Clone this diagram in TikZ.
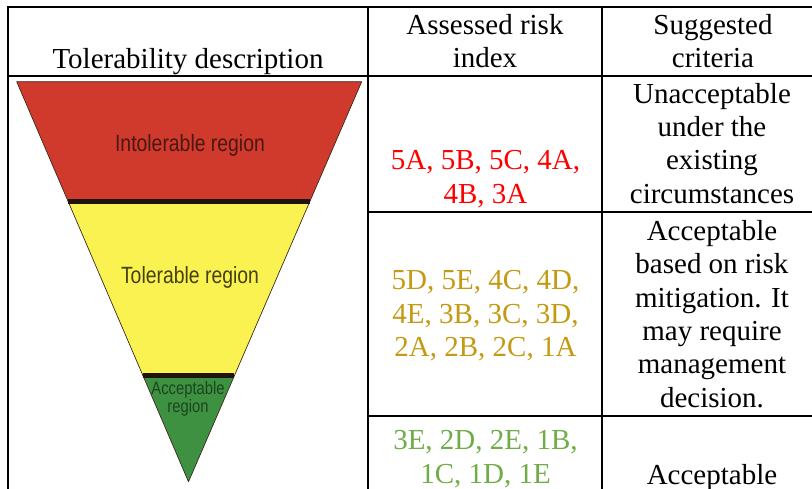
\documentclass[tikz,border=0pt]{standalone}
\usepackage{fontspec}
\setmainfont{Liberation Serif}
\newfontfamily\regionfont{Liberation Sans}
\usetikzlibrary{calc}

\definecolor{zonered}{HTML}{CF3A2C}
\definecolor{zoneyellow}{HTML}{FAF250}
\definecolor{zonegreen}{HTML}{3D9140}
\definecolor{zoneedge}{HTML}{3A2A20}
\definecolor{zoneband}{HTML}{1E1410}
\definecolor{inkred}{HTML}{4B1712}
\definecolor{inkyellow}{HTML}{45400F}
\definecolor{inkgreen}{HTML}{1C451E}
\definecolor{idxred}{HTML}{FF0000}
\definecolor{idxgold}{HTML}{C49A12}
\definecolor{idxgreen}{HTML}{70AD47}

\begin{document}
\begin{tikzpicture}[x=1pt,y=-1pt,
  rule/.style={line width=2pt, black, line cap=rect},
  % multi-line cells are placed by the baseline of their last line
  cell/.style={inner sep=0pt, align=center, anchor=base,
    font=\fontsize{29}{33.4}\selectfont},
  zone/.style={draw=zoneedge, line width=0.7pt, line join=round},
  band/.style={zoneband, line width=5pt},
  zonelabel/.style={inner sep=0pt, anchor=base, xscale=0.825,
    font=\regionfont\fontsize{23.5}{23.5}\selectfont},
  smalllabel/.style={inner sep=0pt, anchor=base, align=center, xscale=0.82,
    font=\regionfont\fontsize{18}{15.5}\selectfont}]
\useasboundingbox (0,0) rectangle (812,489);

% --- table rules (the table continues past the right and lower edges)
\draw[rule] (8,6.7) -- (830,6.7);
\draw[rule] (8,6.7) -- (8,500);
\draw[rule] (8,76.5) -- (830,76.5);
\draw[rule] (368,6.7) -- (368,500);
\draw[rule] (602,6.7) -- (602,500);
\draw[rule] (368,211.7) -- (830,211.7);
\draw[rule] (368,415.7) -- (830,415.7);

% --- header row
\node[cell] (hdesc) at (188,68.3) {Tolerability description};
\node[cell] (hindex) at (485,68) {Assessed risk\\index};
\node[cell] (hcrit) at (713,68) {Suggested\\criteria};

% --- inverted triangle of tolerability zones
\coordinate (tl) at (16.7,81.7);
\coordinate (tr) at (361.7,81.7);
\coordinate (ap) at (188.5,481.7);
\coordinate (l1) at ($(tl)!0.30!(ap)$);
\coordinate (r1) at ($(tr)!0.30!(ap)$);
\coordinate (l2) at ($(tl)!0.7345!(ap)$);
\coordinate (r2) at ($(tr)!0.7345!(ap)$);

\filldraw[zone, fill=zonered] (tl) -- (tr) -- (r1) -- (l1) -- cycle;
\filldraw[zone, fill=zoneyellow] (l1) -- (r1) -- (r2) -- (l2) -- cycle;
\filldraw[zone, fill=zonegreen] (l2) -- (r2) -- (ap) -- cycle;
\draw[band] (l1) -- (r1);
\draw[band] (l2) -- (r2);

\node[zonelabel, text=inkred] (intol) at (190,151.7) {Intolerable region};
\node[zonelabel, text=inkyellow] (tol) at (190,283.5) {Tolerable region};
\node[smalllabel, text=inkgreen] (accz) at (188,412.2) {Acceptable\\region};

% --- risk index column
\node[cell, text=idxred] (ired) at (485.5,203.3) {5A, 5B, 5C, 4A,\\4B, 3A};
\node[cell, text=idxgold] (igold) at (485.5,356.7) {5D, 5E, 4C, 4D,\\4E, 3B, 3C, 3D,\\2A, 2B, 2C, 1A};
\node[cell, text=idxgreen] (igreen) at (485.5,483.3) {3E, 2D, 2E, 1B,\\1C, 1D, 1E};

% --- criteria column
\node[cell] (cunacc) at (712,203.3) {Unacceptable\\under the\\existing\\circumstances};
\node[cell] (cmitig) at (712,407.3) {Acceptable\\based on risk\\mitigation. It\\may require\\management\\decision.};
\node[cell] (cacc) at (712,484) {Acceptable};
\end{tikzpicture}
\end{document}
